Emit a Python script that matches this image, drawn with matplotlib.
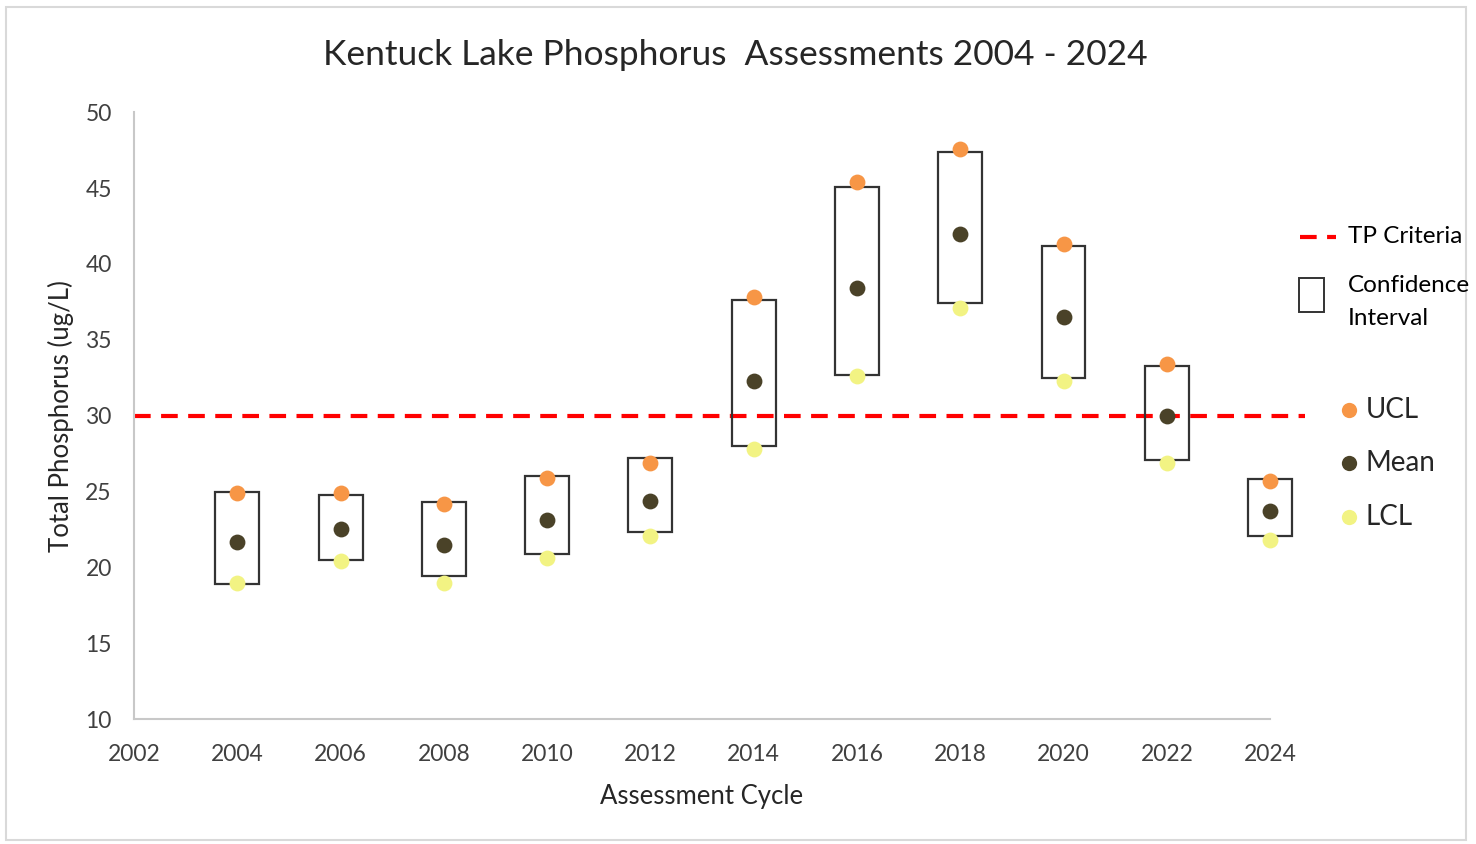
import matplotlib.pyplot as plt
from matplotlib.patches import Rectangle
from matplotlib.lines import Line2D

plt.rcParams['font.family'] = ['Lato', 'DejaVu Sans']

# assessment data
years = [2004, 2006, 2008, 2010, 2012, 2014, 2016, 2018, 2020, 2022, 2024]
ucl = [24.9, 24.9, 24.2, 25.9, 26.9, 37.8, 45.4, 47.6, 41.3, 33.4, 25.7]
mean = [21.7, 22.5, 21.5, 23.1, 24.4, 32.3, 38.4, 42.0, 36.5, 30.0, 23.7]
lcl = [19.0, 20.4, 19.0, 20.6, 22.1, 27.8, 32.6, 37.1, 32.3, 26.9, 21.8]
box_top = [25.0, 24.8, 24.3, 26.0, 27.2, 37.6, 45.1, 47.4, 41.2, 33.3, 25.8]
box_bot = [18.9, 20.5, 19.4, 20.9, 22.3, 28.0, 32.7, 37.4, 32.5, 27.1, 22.1]
tp_criteria = 30

fig = plt.figure(figsize=(14.76, 8.44), dpi=100)
ax = fig.add_axes([0.0908, 0.148, 0.7935, 0.719])

# frame around the whole chart
fig.patches.append(Rectangle((0.004, 0.005), 0.989, 0.987, transform=fig.transFigure,
                             fill=False, edgecolor='#d9d9d9', linewidth=1.5))

w = 0.85
for x, t, b in zip(years, box_top, box_bot):
    ax.add_patch(Rectangle((x - w / 2, b), w, t - b, fill=False,
                           edgecolor='#333333', linewidth=1.6, zorder=2))

ax.axhline(tp_criteria, color='#ff0000', linestyle=(0, (4, 2.5)), linewidth=3, zorder=1)

ax.scatter(years, ucl, s=130, color='#f79646', zorder=3, linewidths=0)
ax.scatter(years, mean, s=130, color='#4a4228', zorder=3, linewidths=0)
ax.scatter(years, lcl, s=130, color='#f2f383', zorder=3, linewidths=0)

ax.set_xlim(2002, 2024.68)
ax.set_ylim(10, 50)
ax.set_xticks(range(2002, 2025, 2))
ax.set_yticks(range(10, 51, 5))
ax.tick_params(length=0, labelsize=16.5, colors='#404040')
ax.tick_params(axis='x', pad=18)
ax.tick_params(axis='y', pad=16)
for s in ['top', 'right']:
    ax.spines[s].set_visible(False)
for s in ['left', 'bottom']:
    ax.spines[s].set_color('#c8c8c8')
    ax.spines[s].set_linewidth(1.5)
ax.spines['bottom'].set_bounds(2002, 2024)

ax.set_xlabel('Assessment Cycle', fontsize=18.5, color='#262626')
ax.xaxis.set_label_coords(0.485, -0.107)
ax.set_ylabel('Total Phosphorus (ug/L)', fontsize=18.5, color='#262626', labelpad=8)
fig.text(0.498, 0.935, 'Kentuck Lake Phosphorus  Assessments 2004 - 2024', fontsize=25.5,
         color='#262626', ha='center', va='center')

# legend on the right
fig.add_artist(Line2D([0.881, 0.905], [0.719, 0.719], color='#ff0000',
                      linestyle=(0, (4, 2.5)), linewidth=3, transform=fig.transFigure))
fig.text(0.913, 0.720, 'TP Criteria', fontsize=17.5, color='#000000', va='center')
fig.patches.append(Rectangle((0.880, 0.630), 0.017, 0.041, transform=fig.transFigure,
                             fill=False, edgecolor='#333333', linewidth=1.4))
fig.text(0.913, 0.662, 'Confidence', fontsize=17.5, color='#000000', va='center')
fig.text(0.913, 0.623, 'Interval', fontsize=17.5, color='#000000', va='center')
for yy, c, lab in [(0.514, '#f79646', 'UCL'), (0.451, '#4a4228', 'Mean'), (0.388, '#f2f383', 'LCL')]:
    fig.add_artist(Line2D([0.914], [yy], marker='o', markersize=11, color=c,
                          markeredgewidth=0, transform=fig.transFigure))
    fig.text(0.925, yy, lab, fontsize=20, color='#262626', va='center')

fig.savefig('out.png', dpi=100)
